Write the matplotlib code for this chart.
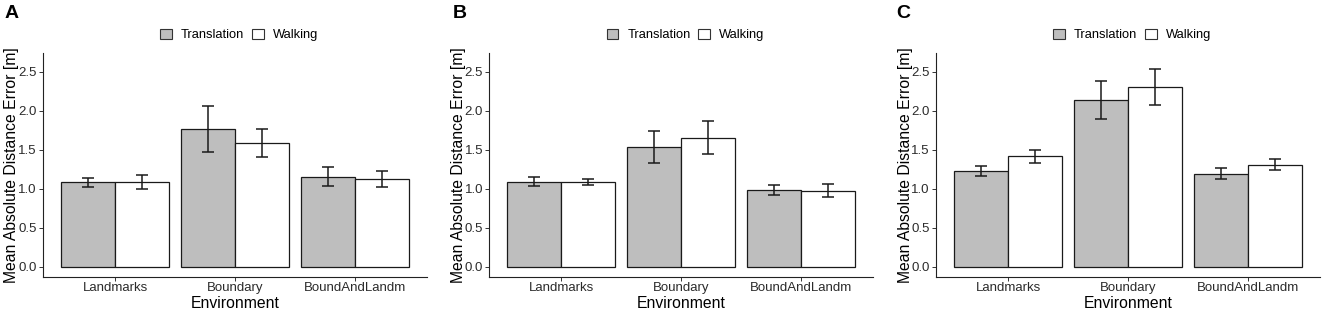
import matplotlib
matplotlib.use("Agg")
import matplotlib.pyplot as plt
import numpy as np
from matplotlib.patches import Patch

plt.rcParams['font.family'] = ['Liberation Sans', 'DejaVu Sans']

categories = ["Landmarks", "Boundary", "BoundAndLandm"]
conditions = ["Translation", "Walking"]
panel_labels = ["A", "B", "C"]

# Panel A
a_translation = [1.08, 1.765, 1.155]
a_translation_err = [0.062, 0.29, 0.12]
a_walking = [1.08, 1.58, 1.125]
a_walking_err = [0.09, 0.18, 0.10]
# Panel B
b_translation = [1.09, 1.534, 0.982]
b_translation_err = [0.062, 0.20, 0.064]
b_walking = [1.09, 1.655, 0.974]
b_walking_err = [0.038, 0.21, 0.082]
# Panel C
c_translation = [1.222, 2.137, 1.192]
c_translation_err = [0.062, 0.24, 0.069]
c_walking = [1.413, 2.303, 1.305]
c_walking_err = [0.088, 0.23, 0.069]

yticks = [0.0, 0.5, 1.0, 1.5, 2.0, 2.5]
ytick_labels = ["0.0", "0.5", "1.0", "1.5", "2.0", "2.5"]

panels = [
    (a_translation, a_translation_err, a_walking, a_walking_err),
    (b_translation, b_translation_err, b_walking, b_walking_err),
    (c_translation, c_translation_err, c_walking, c_walking_err),
]

W, H = 1325, 310
fig = plt.figure(figsize=(W / 100, H / 100), dpi=100)

ax_lefts = [43, 489.3, 936]
ax_w = 384
ax_top, ax_bottom = 53.3, 276.7
ax_h = ax_bottom - ax_top
letter_x = [4.5, 452.5, 896]

fill_colors = ["#bebebe", "#ffffff"]
bar_w = 0.45

for i, (tr, tre, wk, wke) in enumerate(panels):
    left = ax_lefts[i]
    ax = fig.add_axes([left / W, (H - ax_bottom) / H, ax_w / W, ax_h / H])
    x = np.arange(1, len(categories) + 1)
    for j, (vals, errs) in enumerate([(tr, tre), (wk, wke)]):
        pos = x + (j - 0.5) * bar_w
        ax.bar(pos, vals, width=bar_w, color=fill_colors[j], edgecolor="#1a1a1a",
               linewidth=0.9, zorder=2)
        ax.errorbar(pos, vals, yerr=errs, fmt="none", ecolor="#1a1a1a",
                    elinewidth=1.1, capsize=4.2, capthick=1.1, zorder=3)
    ax.set_xlim(0.4, 3.6)
    ax.set_ylim(-0.13, 2.736)
    ax.set_xticks(x)
    ax.set_xticklabels(categories)
    ax.set_yticks(yticks)
    ax.set_yticklabels(ytick_labels)
    for s in ["top", "right"]:
        ax.spines[s].set_visible(False)
    for s in ["left", "bottom"]:
        ax.spines[s].set_linewidth(0.8)
        ax.spines[s].set_color("#222222")
    ax.tick_params(axis="both", length=3, width=0.7, color="#333333",
                   labelsize=9.5, labelcolor="#2b2b2b", pad=1.5)
    ax.tick_params(axis="x", pad=1)
    ax.set_xlabel("Environment", fontsize=11.3)
    ax.set_ylabel("Mean Absolute Distance Error [m]", fontsize=11.3)
    ax.yaxis.set_label_coords((19.5 - 43) / ax_w, 0.5)
    ax.xaxis.set_label_coords(0.5, -(295.5 - ax_bottom) / ax_h)
    handles = [Patch(facecolor=fill_colors[0], edgecolor="#333333", linewidth=0.8),
               Patch(facecolor=fill_colors[1], edgecolor="#333333", linewidth=0.8)]
    cx = (left + ax_w / 2 + 4) / W
    fig.legend(handles, conditions, loc="center", bbox_to_anchor=(cx, 1 - 35 / H),
               bbox_transform=fig.transFigure, ncol=2, frameon=False, fontsize=9.3,
               handlelength=0.9, handleheight=0.9, handletextpad=0.7,
               columnspacing=0.6, borderpad=0)
    fig.text(letter_x[i] / W, 1 - 5 / H, panel_labels[i], fontsize=14,
             fontweight="bold", ha="left", va="top")

fig.savefig("out.png", dpi=100)
